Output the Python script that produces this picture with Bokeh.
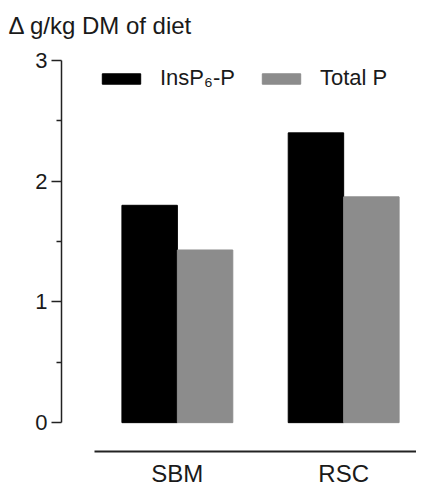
from bokeh.plotting import figure
from bokeh.models import (ColumnDataSource, Range1d, FixedTicker, Legend, LegendItem)
from bokeh.embed import file_html
from bokeh.resources import INLINE

categories = ["SBM", "RSC"]
insp6_p = [1.80, 2.40]
total_p = [1.43, 1.87]
y_ticks = [0, 1, 2, 3]
y_minor_ticks = [0.5, 1.5, 2.5]
title_text = "\u0394 g/kg DM of diet"
series_names = ["InsP\u2086-P", "Total P"]
series_colors = ["#000000", "#8c8c8c"]

FONT = "Liberation Sans"

pos = [i + 1 for i in range(len(categories))]
bar_w = 1 / 3
src = ColumnDataSource(dict(
    x1=[p - bar_w / 2 for p in pos],
    x2=[p + bar_w / 2 for p in pos],
    a=insp6_p,
    b=total_p,
))

p = figure(width=416, height=489, output_backend="svg", toolbar_location=None,
           x_range=Range1d(0.3033, 2.438), y_range=Range1d(-0.239, 3.165),
           min_border_left=61, min_border_right=0, min_border_top=40,
           min_border_bottom=36)
p.outline_line_color = None
p.grid.visible = False
p.background_fill_color = "white"
p.border_fill_color = "white"

r1 = p.vbar(x="x1", top="a", bottom=0, width=bar_w, source=src,
            fill_color=series_colors[0], line_color=series_colors[0])
r2 = p.vbar(x="x2", top="b", bottom=0, width=bar_w, source=src,
            fill_color=series_colors[1], line_color=series_colors[1])

# title
p.title.text = title_text
p.title.text_font = FONT
p.title.text_font_size = "24px"
p.title.text_font_style = "normal"
p.title.text_color = "#1a1a1a"
p.title.align = "left"
p.title.vertical_align = "bottom"
p.title.offset = -53
p.title.standoff = 4

# y axis
ya = p.yaxis[0]
ya.ticker = FixedTicker(ticks=y_ticks, minor_ticks=y_minor_ticks)
ya.bounds = (0, 3)
ya.axis_line_width = 1.5
ya.axis_line_color = "#222222"
ya.major_tick_line_color = "#222222"
ya.major_tick_line_width = 1.5
ya.minor_tick_line_color = "#222222"
ya.minor_tick_line_width = 1.5
ya.major_tick_out = 10
ya.major_tick_in = 0
ya.minor_tick_out = 5
ya.minor_tick_in = 0
ya.major_label_standoff = 4
ya.major_label_text_font = FONT
ya.major_label_text_font_size = "22px"
ya.major_label_text_color = "#1a1a1a"

# x axis
xa = p.xaxis[0]
xa.ticker = FixedTicker(ticks=pos, minor_ticks=[])
xa.major_label_overrides = {pp: c for pp, c in zip(pos, categories)}
xa.bounds = (0.5, 2.6)
xa.axis_line_width = 2
xa.axis_line_color = "#222222"
xa.major_tick_line_color = None
xa.minor_tick_line_color = None
xa.major_tick_out = 0
xa.major_tick_in = 0
xa.major_label_standoff = 8
xa.major_label_text_font = FONT
xa.major_label_text_font_size = "24px"
xa.major_label_text_color = "#1a1a1a"

legend = Legend(items=[LegendItem(label=series_names[0], renderers=[r1]),
                       LegendItem(label=series_names[1], renderers=[r2])],
                orientation="horizontal", location=(36, 360),
                glyph_width=48, glyph_height=13, label_standoff=15, spacing=22,
                padding=0, margin=0, border_line_color=None,
                background_fill_alpha=0,
                label_text_font=FONT, label_text_font_size="22px",
                label_text_color="#1a1a1a")
p.add_layout(legend, "center")

open("out.html", "w").write(file_html(p, INLINE))
